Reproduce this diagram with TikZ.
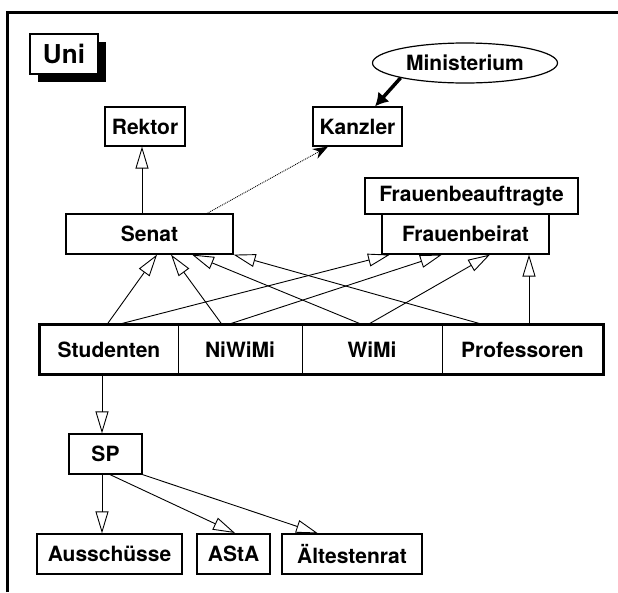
\documentclass[tikz,border=0pt]{standalone}
\usepackage{fontspec}
\setmainfont{TeX Gyre Heros}
\usetikzlibrary{shapes.geometric, arrows.meta, shadows}

\begin{document}
\begin{tikzpicture}[x=1pt, y=-1pt, font=\fontsize{21}{25}\selectfont\bfseries]
    \tikzstyle{box} = [rectangle, draw, line width=1.2pt, inner sep=0pt, minimum height=40pt]
    \tikzstyle{group} = [rectangle, draw, line width=1pt, inner sep=0pt, minimum height=49pt]
    \tikzstyle{line} = [draw, line width=0.9pt, -{Triangle[open, length=22pt, width=13pt]}]
    \tikzstyle{order} = [draw, line width=0.9pt, densely dotted, -{Stealth[length=15pt, width=11pt]}]
    \tikzstyle{control} = [draw, line width=3.5pt, -{Latex[length=13pt, width=15pt]}]

    \useasboundingbox (0,0) rectangle (618,592);
    \draw [line width=3pt] (7,592) -- (7,12) -- (618,12);

    \node [box, line width=1.5pt, minimum width=68pt, fill=white, drop shadow={shadow xshift=8pt, shadow yshift=-8pt, fill=black, opacity=1}, font=\fontsize{26}{30}\selectfont\bfseries] (uni) at (64,54) {Uni};

    \node [box, minimum width=80pt, minimum height=39pt] (rektor) at (145,126.5) {Rektor};
    \node [box, minimum width=89pt, minimum height=39pt] (kanzler) at (357.5,126.5) {Kanzler};
    \node [ellipse, draw, line width=1.2pt, inner sep=0pt, minimum width=185pt, minimum height=40pt] (ministerium) at (465,63) {Ministerium};
    \node [box, minimum width=167pt] (senat) at (149.5,234) {Senat};
    \node [box, minimum width=213pt, minimum height=36pt] (beauftragte) at (471.5,196) {Frauenbeauftragte};
    \node [box, minimum width=167pt] (beirat) at (465.5,234) {Frauenbeirat};

    \node [group, minimum width=138pt] (studenten) at (109,349.5) {Studenten};
    \node [group, minimum width=124pt] (niwimi) at (240,349.5) {NiWiMi};
    \node [group, minimum width=140pt] (wimi) at (372,349.5) {WiMi};
    \node [group, minimum width=161pt] (professoren) at (522.5,349.5) {Professoren};
    \draw [line width=3.5pt] (studenten.north west) rectangle (professoren.south east);

    \node [box, minimum width=73pt] (sp) at (105.5,454) {SP};
    \node [box, minimum width=145pt] (ausschuesse) at (109.5,554) {Ausschüsse};
    \node [box, line width=2pt, minimum width=73pt] (asta) at (233.5,554) {AStA};
    \node [box, minimum width=140pt] (aeltestenrat) at (352,554) {Ältestenrat};

    \path [control] (ministerium.193) -- ([xshift=17.5pt]kanzler.north);
    \path [order] ([xshift=57.5pt]senat.north) -- ([xshift=-29.5pt]kanzler.south);
    \path [line] ([xshift=-7.5pt]senat.north) -- ([xshift=-3pt]rektor.south);

    \path [line] ([xshift=-2pt]studenten.north) -- ([xshift=7.5pt]senat.south);
    \path [line] ([xshift=-18pt]niwimi.north) -- ([xshift=21.5pt]senat.south);
    \path [line] ([xshift=-10pt]wimi.north) -- ([xshift=42.5pt]senat.south);
    \path [line] ([xshift=-39.5pt]professoren.north) -- (senat.south east);
    \path [line] ([xshift=9pt]studenten.north) -- ([xshift=-75.5pt]beirat.south);
    \path [line] ([xshift=-12pt]niwimi.north) -- ([xshift=-23.5pt]beirat.south);
    \path [line] ([xshift=-4pt]wimi.north) -- ([xshift=24.5pt]beirat.south);
    \path [line] ([xshift=6.5pt]professoren.north) -- ([xshift=63.5pt]beirat.south);

    \path [line] ([xshift=-7pt]studenten.south) -- ([xshift=-3.5pt]sp.north);
    \path [line] ([xshift=-3.5pt]sp.south) -- ([xshift=-7.5pt]ausschuesse.north);
    \path [line] ([xshift=4.5pt]sp.south) -- ([xshift=1.5pt]asta.north);
    \path [line] (sp.south east) -- ([xshift=-34pt]aeltestenrat.north);
\end{tikzpicture}
\end{document}
